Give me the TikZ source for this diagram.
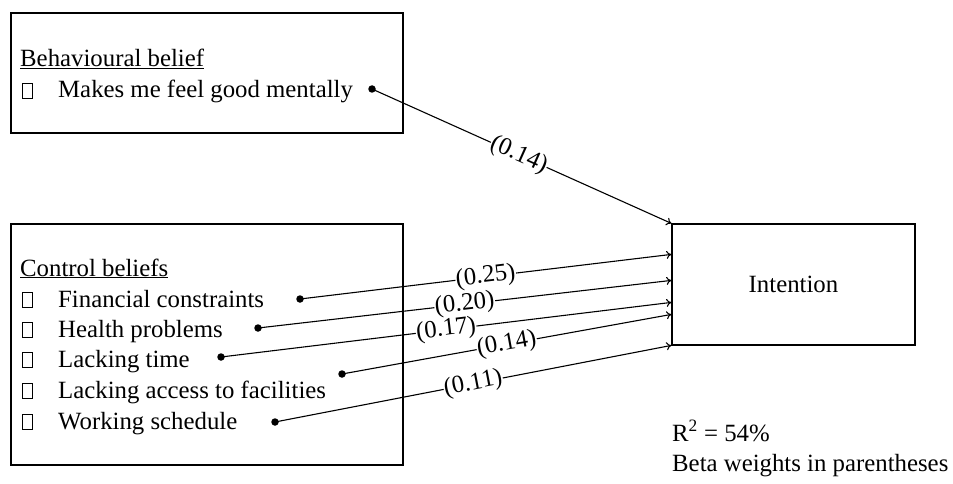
\documentclass[tikz,border=0pt]{standalone}
\usepackage{fontspec}
\setmainfont{Liberation Serif}
\usetikzlibrary{arrows.meta,calc}
\newcommand{\ebox}{{\setlength{\fboxsep}{0pt}\setlength{\fboxrule}{0.9pt}\fbox{\rule{0pt}{14pt}\hspace{8.5pt}}}}
\newcommand{\itm}[1]{\makebox[36pt][l]{\ebox}#1}
\tikzset{
  txt/.style={anchor=base west, inner sep=0pt, font=\fontsize{24.8}{29}\selectfont},
  boxx/.style={draw, line width=1.2pt, inner sep=0pt},
  dot/.style={circle, fill=black, inner sep=0pt, minimum size=7.5pt},
  conn/.style={line width=1.1pt, -{To[length=5pt,width=8pt]}},
  wt/.style={sloped, fill=white, inner sep=0.5pt, font=\fontsize{24.8}{29}\selectfont}
}
\begin{document}
\begin{tikzpicture}[x=1pt,y=1pt]
\useasboundingbox[fill=white] (0,0) rectangle (953,-484);
% boxes
\node[boxx, minimum width=392pt, minimum height=120pt] (bb) at (207,-73) {};
\node[boxx, minimum width=392pt, minimum height=241pt] (cb) at (207,-344.5) {};
\node[boxx, minimum width=243pt, minimum height=121pt, font=\fontsize{24.8}{29}\selectfont] (int) at (793.5,-284.5) {Intention};
% texts top
\node[txt] (bh) at (20,-67) {\underline{Behavioural belief}};
\node[txt] (b1) at (22,-98) {\itm{Makes me feel good mentally}};
% texts bottom
\node[txt] (ch) at (20,-276) {\underline{Control beliefs}};
\node[txt] (c1) at (22,-307) {\itm{Financial constraints}};
\node[txt] (c2) at (22,-337) {\itm{Health problems}};
\node[txt] (c3) at (22,-367) {\itm{Lacking time}};
\node[txt] (c4) at (22,-398) {\itm{Lacking access to facilities}};
\node[txt] (c5) at (22,-429) {\itm{Working schedule}};
% notes
\node[txt] (r2) at (672,-441) {R\textsuperscript{2} = 54\%};
\node[txt] (bw) at (672,-471) {Beta weights in parentheses};
% dots
\node[dot] (d0) at (372,-89) {};
\node[dot] (d1) at (300,-299) {};
\node[dot] (d2) at (258,-328) {};
\node[dot] (d3) at (221,-357) {};
\node[dot] (d4) at (342,-374) {};
\node[dot] (d5) at (275,-422) {};
% arrow targets on Intention's left side
\coordinate (t1) at ($(int.north west)+(0,-31)$);
\coordinate (t2) at ($(int.north west)+(0,-57)$);
\coordinate (t3) at ($(int.north west)+(0,-79)$);
\coordinate (t4) at ($(int.north west)+(0,-91)$);
\coordinate (t5) at ($(int.north west)+(0,-122)$);
% connectors
\draw[conn] (d0.center) -- node[wt, pos=0.49] {(0.14)} (int.north west);
\draw[conn] (d1.center) -- node[wt, pos=0.5] {(0.25)} (t1);
\draw[conn] (d2.center) -- node[wt, pos=0.5] {(0.20)} (t2);
\draw[conn] (d3.center) -- node[wt, pos=0.5] {(0.17)} (t3);
\draw[conn] (d4.center) -- node[wt, pos=0.5] {(0.14)} (t4);
\draw[conn] (d5.center) -- node[wt, pos=0.5] {(0.11)} (t5);
\end{tikzpicture}
\end{document}
